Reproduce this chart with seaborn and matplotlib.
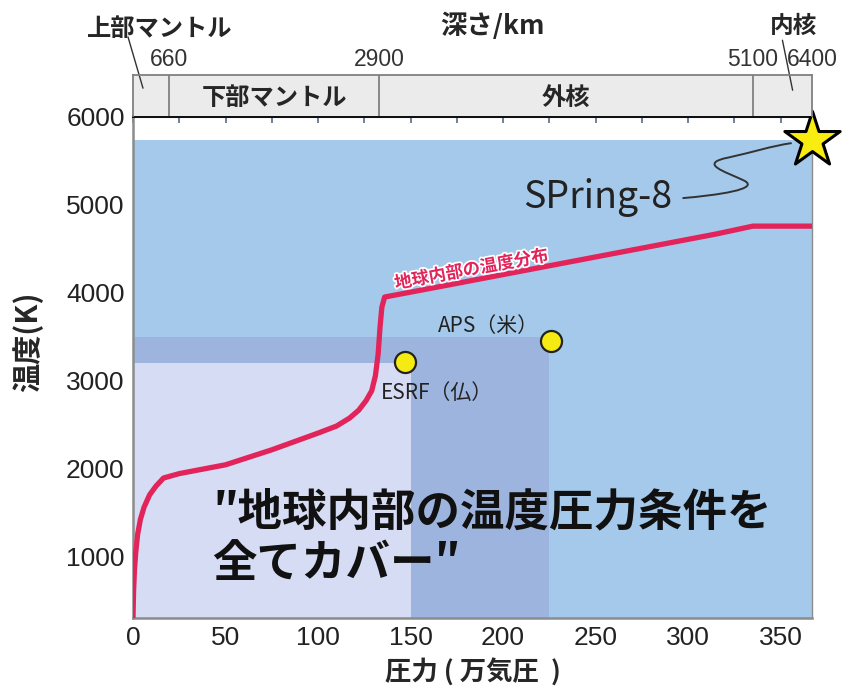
"""
Earth interior temperature / pressure coverage chart (SPring-8 vs APS / ESRF).
"""
import matplotlib
matplotlib.use('Agg')
import matplotlib.pyplot as plt
import matplotlib.patheffects as pe
from matplotlib.path import Path
from matplotlib.patches import PathPatch
from matplotlib.ticker import MultipleLocator
import seaborn as sns
import pandas as pd

# geotherm: pressure (10^4 atm) vs temperature (K)
pressure = [0, 0.3, 0.8, 1.5, 2.5, 4, 6, 9, 12.5, 16.5, 25, 50, 75, 100, 110, 117,
            122, 126, 129, 131, 132.5, 133.5, 134.5, 136, 170, 200, 230, 260, 290,
            315, 335, 367]
temperature = [300, 600, 850, 1050, 1250, 1420, 1560, 1700, 1800, 1890, 1940, 2040,
               2210, 2400, 2480, 2570, 2660, 2770, 2880, 3050, 3300, 3600, 3830, 3945,
               4080, 4200, 4320, 4440, 4560, 4660, 4750, 4750]

# facility coverage (max pressure, max temperature)
facilities = ['SPring-8', 'APS（米）', 'ESRF（仏）']
range_p = [367, 225, 150]
range_t = [5730, 3490, 3200]
range_colors = ['#a4c9eb', '#9db5de', '#d6dcf4']
point_p = [226, 147]
point_t = [3445, 3205]

# depth band
depth_km = ['660', '2900', '5100', '6400']
depth_p = [19.6, 133, 335, 367]

T_MIN = 300

sns.set_theme(style='white')
plt.rcParams['font.family'] = ['Noto Sans CJK JP', 'DejaVu Sans']

fig = plt.figure(figsize=(8.45, 6.9), dpi=100)
ax = fig.add_axes([0.1574, 0.1043, 0.8036, 0.7275])
bax = fig.add_axes([0.1574, 0.8318, 0.8036, 0.0594])

# coverage rectangles
for p, t, c in zip(range_p, range_t, range_colors):
    ax.fill_between([0, p], T_MIN, t, color=c, lw=0, zorder=1)

# geotherm
curve = pd.DataFrame({'p': pressure, 'T': temperature})
sns.lineplot(data=curve, x='p', y='T', ax=ax, color='#e2245b', lw=3.8,
             estimator=None, sort=False, zorder=3)

# facility points
pts = pd.DataFrame({'p': point_p, 'T': point_t})
sns.scatterplot(data=pts, x='p', y='T', ax=ax, s=230, color='#f5ea12',
                edgecolor='#222222', linewidth=1.6, zorder=5)
ax.scatter([range_p[0]], [range_t[0]], marker='*', s=1750, color='#f8ec10',
           edgecolor='black', linewidth=2.2, zorder=6, clip_on=False)

ax.set_xlim(0, 367)
ax.set_ylim(T_MIN, 6000)
ax.xaxis.set_major_locator(MultipleLocator(50))
ax.xaxis.set_minor_locator(MultipleLocator(25))
ax.yaxis.set_major_locator(MultipleLocator(1000))
ax.yaxis.set_minor_locator(MultipleLocator(500))
ax.set_yticks([1000, 2000, 3000, 4000, 5000, 6000])
ax.tick_params(which='both', direction='in', top=True, right=True, length=5,
               width=1.2, color='#5b6b82', labelsize=19, labelcolor='#222222', pad=6)
for lab in ax.get_xticklabels() + ax.get_yticklabels():
    lab.set_family('Liberation Sans')

for side in ['left', 'bottom', 'right']:
    ax.spines[side].set_color('#8c8c8c')
    ax.spines[side].set_linewidth(1.8)
ax.spines['right'].set_linewidth(1.0)
ax.spines['top'].set_color('#111111')
ax.spines['top'].set_linewidth(2.2)

ax.set_xlabel('圧力 ( 万気圧  )', fontsize=19, fontweight='bold', labelpad=5)
ax.set_ylabel('温度(K)', fontsize=21, fontweight='bold')
ax.yaxis.set_label_coords(-0.132, 0.55)

# annotations
ax.text(183, 4255, '地球内部の温度分布', color='#e2245b', fontsize=12.5, fontweight='bold',
        rotation=10.5, ha='center', va='center', zorder=4,
        path_effects=[pe.withStroke(linewidth=2.5, foreground='white')])
ax.text(192, 3614, facilities[1], fontsize=15, color='#222222', ha='center', va='center', zorder=4)
ax.text(164, 2852, facilities[2], fontsize=15, color='#222222', ha='center', va='center', zorder=4)
ax.text(251, 5075, facilities[0], fontsize=27, color='#222222', ha='center', va='center', zorder=4)
ax.text(43, 1210, '″地球内部の温度圧力条件を\n全てカバー″', fontsize=32, fontweight='bold',
        color='#111111', ha='left', va='center', linespacing=1.16, zorder=4,
        family=['Noto Sans CJK JP', 'DejaVu Sans'])

# squiggly leader from SPring-8 to the star
verts = [(297, 5068), (315, 5100), (340, 5170), (330, 5270),
         (320, 5370), (305, 5460), (322, 5530),
         (335, 5590), (345, 5660), (356, 5693)]
codes = [Path.MOVETO] + [Path.CURVE4] * 9
ax.add_patch(PathPatch(Path(verts, codes), fill=False, lw=1.4, color='#333333', zorder=4))

# depth band
bax.set_xlim(0, 367)
bax.set_ylim(0, 1)
bax.set_facecolor('#ebebeb')
bax.set_xticks([])
bax.set_yticks([])
for s in bax.spines.values():
    s.set_color('#808080')
    s.set_linewidth(1.3)
bax.spines['bottom'].set_visible(False)
for p in depth_p[:-1]:
    bax.axvline(p, color='#808080', lw=1.3)
for p, d in zip(depth_p, depth_km):
    bax.text(p, 1.37, d, fontsize=16.5, color='#333333', ha='center', va='center',
             clip_on=False, family=['Liberation Sans'])

bax.text((depth_p[0] + depth_p[1]) / 2, 0.45, '下部マントル', fontsize=17.5,
         fontweight='bold', ha='center', va='center')
bax.text((depth_p[1] + depth_p[2]) / 2, 0.45, '外核', fontsize=17.5,
         fontweight='bold', ha='center', va='center')
bax.text(14.7, 2.12, '上部マントル', fontsize=17.5, fontweight='bold',
         ha='center', va='center', clip_on=False)
bax.text(194, 2.2, '深さ/km', fontsize=19, fontweight='bold',
         ha='center', va='center', clip_on=False)
bax.text(357, 2.2, '内核', fontsize=17, fontweight='bold',
         ha='center', va='center', clip_on=False)
bax.plot([-2.7, 5.4], [1.93, 0.68], color='#333333', lw=1, clip_on=False)
bax.plot([351, 356.5], [1.85, 0.63], color='#333333', lw=1, clip_on=False)

fig.savefig('out.png', dpi=100)
plt.close(fig)
